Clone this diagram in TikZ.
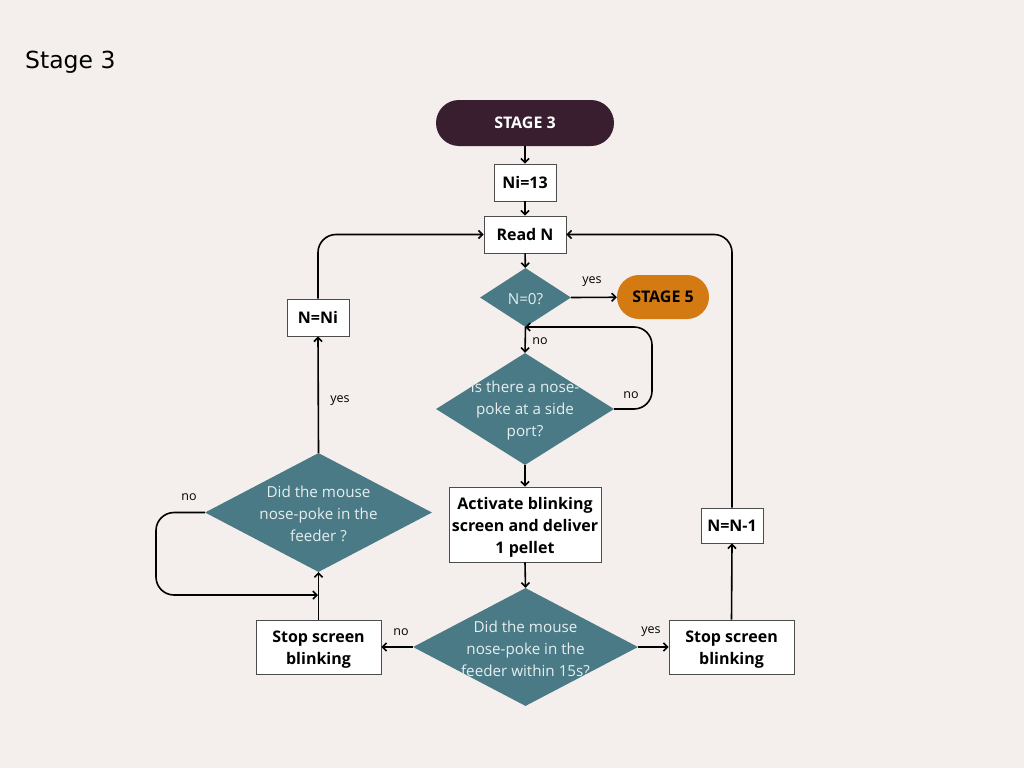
\documentclass[tikz,border=0pt]{standalone}
\usepackage{fontspec}
\setmainfont{Open Sans}
\newfontfamily\titlefont{DejaVu Sans}
\usetikzlibrary{shapes.geometric,shapes.misc,arrows.meta}
\definecolor{bg}{HTML}{F4EFEC}
\definecolor{plum}{HTML}{381E2F}
\definecolor{teal}{HTML}{4A7A86}
\definecolor{amber}{HTML}{D37A12}
\definecolor{dtext}{HTML}{E6EEEF}
\tikzset{
  pill/.style={rounded rectangle, inner sep=0pt, font=\fontsize{16}{18}\selectfont\bfseries},
  box/.style={draw=black!70, line width=0.9pt, fill=white, inner sep=0pt},
  boxtext/.style={align=center, font=\fontsize{16}{22}\selectfont\bfseries},
  multi/.style={yshift=-3pt},
  dia/.style={diamond, fill=teal, inner sep=0pt},
  diatext/.style={align=center, text=dtext, font=\fontsize{15.2}{22}\selectfont, yshift=-1.5pt},
  lbl/.style={font=\fontsize{12.5}{14}\selectfont},
  conn/.style={line width=1.6pt, -{Straight Barb[length=4pt,width=8pt,line width=1.6pt]}},
}
\begin{document}
\begin{tikzpicture}[x=1pt,y=-1pt]
\fill[bg] (0,0) rectangle (1024,768);
\useasboundingbox (0,0) rectangle (1024,768);

\node[anchor=base west, font=\titlefont\fontsize{23.5}{26}\selectfont, inner sep=0pt] (title) at (25,68) {Stage 3};

% start / end terminals
\node[pill, fill=plum, text=white, minimum width=178pt, minimum height=46pt] (s3) at (525,123) {STAGE 3};
\node[pill, fill=amber, text=black, minimum width=92pt, minimum height=44pt] (s5) at (663,297) {STAGE 5};

% process boxes (frame first, text set on top)
\node[box, minimum width=62pt, minimum height=37pt] (ni) at (525,182.5) {};
\node[boxtext] at (ni) {Ni=13};
\node[box, minimum width=82pt, minimum height=37pt] (rn) at (525,234.5) {};
\node[boxtext] at (rn) {Read N};
\node[box, minimum width=62pt, minimum height=37pt] (nni) at (318,317.5) {};
\node[boxtext] at (nni) {N=Ni};
\node[box, minimum width=62pt, minimum height=35pt] (nm1) at (732,525.5) {};
\node[boxtext] at (nm1) {N=N-1};
\node[box, minimum width=152pt, minimum height=75pt] (act) at (525,524.5) {};
\node[boxtext, multi] at (act) {Activate blinking\\screen and deliver\\1 pellet};
\node[box, minimum width=125pt, minimum height=54pt] (stl) at (318.5,647) {};
\node[boxtext, multi] at (stl) {Stop screen\\blinking};
\node[box, minimum width=125pt, minimum height=54pt] (str) at (731.5,647) {};
\node[boxtext, multi] at (str) {Stop screen\\blinking};

% decisions
\node[dia, minimum width=91pt, minimum height=59pt] (q1) at (525.5,297.5) {};
\node[diatext] at (q1) {N=0?};
\node[dia, minimum width=178pt, minimum height=112pt] (q2) at (525,409) {};
\node[diatext] at (q2) {Is there a nose-\\poke at a side\\port?};
\node[dia, minimum width=227pt, minimum height=119pt] (q4) at (318.5,512.5) {};
\node[diatext] at (q4) {Did the mouse\\nose-poke in the\\feeder ?};
\node[dia, minimum width=225pt, minimum height=118pt] (q3) at (525.5,647) {};
\node[diatext] at (q3) {Did the mouse\\nose-poke in the\\feeder within 15s?};

% junction points of the loops
\coordinate (j1) at (525,327);
\coordinate (j2) at (318,595);

% connectors
\draw[conn] (s3) -- (ni);
\draw[conn] (ni) -- (rn);
\draw[conn] (rn) -- (q1);
\draw[conn] (q1.east) -- (s5);
\draw[conn] (q1.south) -- (q2.north);
\draw[conn, rounded corners=18pt] (q2.east) -- (652,409) -- (652,327) -- (j1);
\draw[conn] (q2.south) -- (act.north);
\draw[conn] (act.south) -- (q3.north);
\draw[conn] (q3.west) -- (stl.east);
\draw[conn] (q3.east) -- (str.west);
\draw[conn] (str.north) -- (nm1.south);
\draw[conn, rounded corners=18pt] (nm1.north) -- (732,234.5) -- (rn.east);
\draw[conn] (stl.north) -- (q4.south);
\draw[conn, rounded corners=18pt] (q4.west) -- (156,512.5) -- (156,595) -- (j2);
\draw[conn] (q4.north) -- (nni.south);
\draw[conn, rounded corners=18pt] (nni.north) -- (318,234.5) -- (rn.west);

% branch labels
\node[lbl] at (592,282) {yes};
\node[lbl] at (540,341) {no};
\node[lbl] at (631,395) {no};
\node[lbl] at (401,632) {no};
\node[lbl] at (651,632) {yes};
\node[lbl] at (340,401) {yes};
\node[lbl] at (189,497) {no};
\end{tikzpicture}
\end{document}
